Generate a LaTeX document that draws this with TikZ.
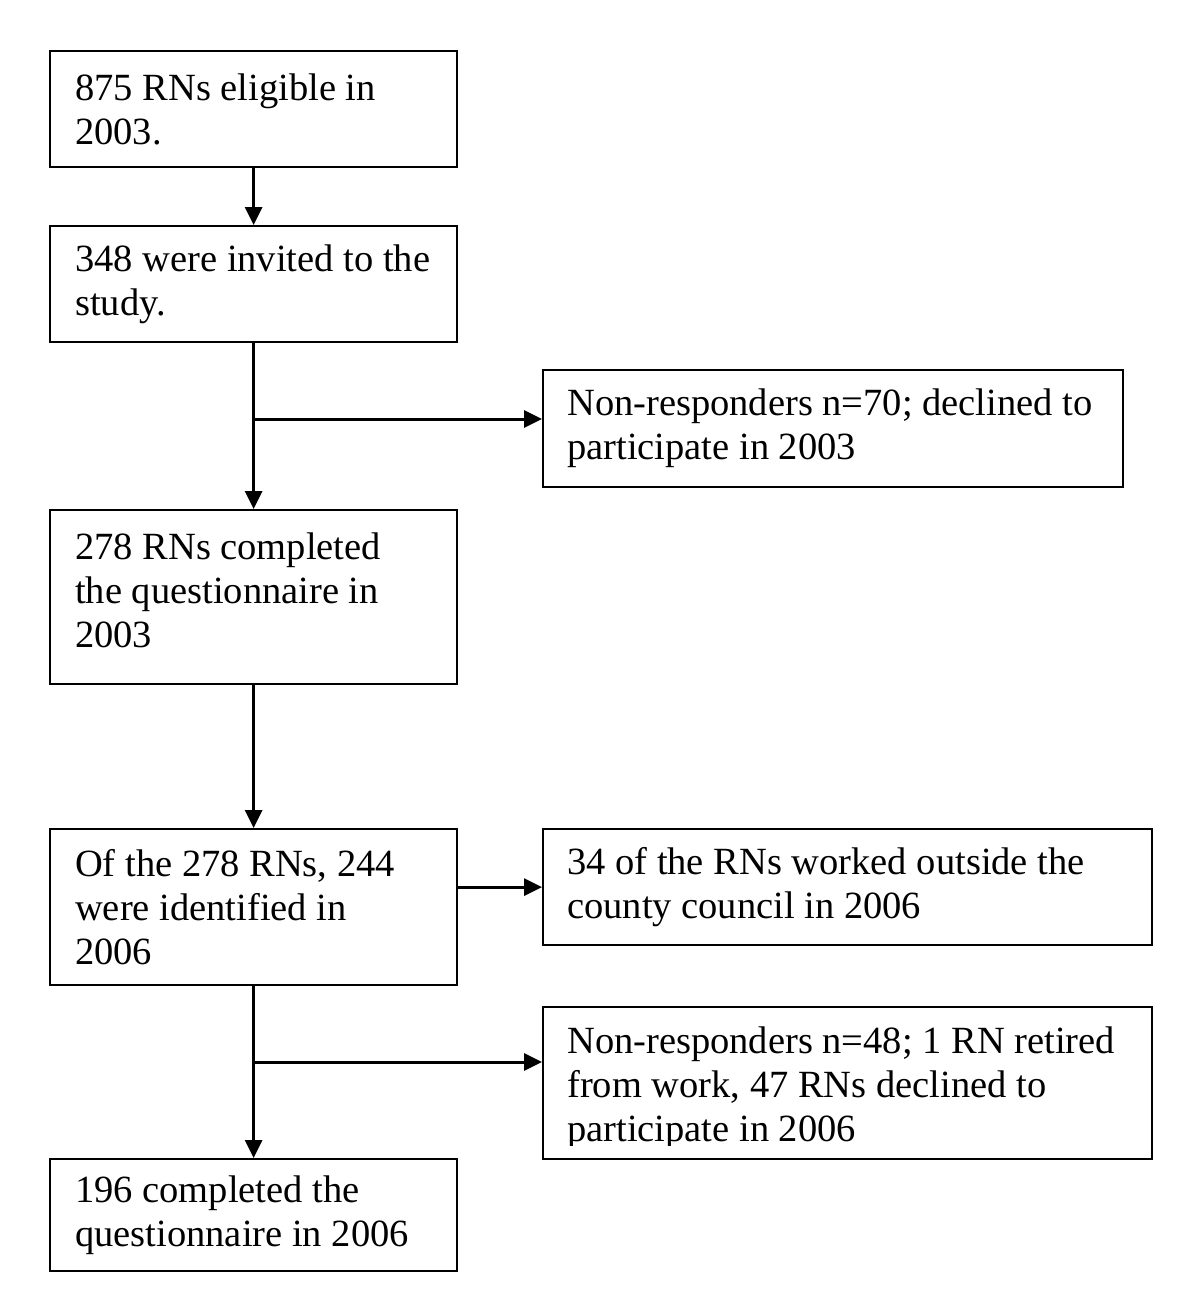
\documentclass[tikz,border=0pt]{standalone}
\usepackage{fontspec}
\setmainfont{Liberation Serif}
\usetikzlibrary{arrows.meta}
\begin{document}
\begin{tikzpicture}[x=1pt,y=-1pt,
  box/.style={draw=black, line width=2.2pt, rectangle, inner sep=0pt, anchor=north west},
  txt/.style={anchor=west, align=left, inner sep=0pt, font=\fontsize{38.5pt}{44pt}\selectfont},
  arr/.style={line width=3pt, -{Triangle[length=18pt,width=17pt]}},
  ln/.style={line width=3pt}]
\useasboundingbox (0,0) rectangle (1200,1311);
% boxes
\node[box, minimum width=407pt, minimum height=116pt] (b1) at (49,50) {};
\node[box, minimum width=407pt, minimum height=116pt] (b2) at (49,225) {};
\node[box, minimum width=580pt, minimum height=117pt] (b3) at (542,369) {};
\node[box, minimum width=407pt, minimum height=174pt] (b4) at (49,509) {};
\node[box, minimum width=407pt, minimum height=156pt] (b5) at (49,828) {};
\node[box, minimum width=609pt, minimum height=116pt] (b6) at (542,828) {};
\node[box, minimum width=609pt, minimum height=152pt] (b7) at (542,1006) {};
\node[box, minimum width=407pt, minimum height=112pt] (b8) at (49,1158) {};
% texts
\node[txt] (t1) at ([xshift=26pt]b1.west) {875 RNs eligible in\\2003.};
\node[txt] (t2) at ([xshift=26pt]b2.west) {348 were invited to the\\study.};
\node[txt] (t3) at ([xshift=25pt]b3.west) {Non-responders n=70; declined to\\participate in 2003};
\node[txt] (t4) at ([xshift=26pt,yshift=7pt]b4.west) {278 RNs completed\\the questionnaire in\\2003};
\node[txt] (t5) at ([xshift=26pt]b5.west) {Of the 278 RNs, 244\\were identified in\\2006};
\node[txt] (t6) at ([xshift=25pt]b6.west) {34 of the RNs worked outside the\\county council in 2006};
\node[txt] (t7) at ([xshift=25pt,yshift=-5pt]b7.west) {Non-responders n=48; 1 RN retired\\from work, 47 RNs declined to\\participate in 2006};
\fill[white] (545,1146) rectangle (1148,1156);
\node[txt] (t8) at ([xshift=26pt]b8.west) {196 completed the\\questionnaire in 2006};
% junctions
\coordinate (j1) at (b2.south |- 0,419);
\coordinate (j2) at (b5.south |- 0,1062);
% connectors
\draw[arr] (b1.south) -- (b2.north);
\draw[arr] (b2.south) -- (b4.north);
\draw[arr] (j1) -- (b3.west |- j1);
\draw[arr] (b4.south) -- (b5.north);
\draw[arr] (b5.east |- b6.west) -- (b6.west);
\draw[arr] (b5.south) -- (b8.north);
\draw[arr] (j2) -- (b7.west |- j2);
\end{tikzpicture}
\end{document}
